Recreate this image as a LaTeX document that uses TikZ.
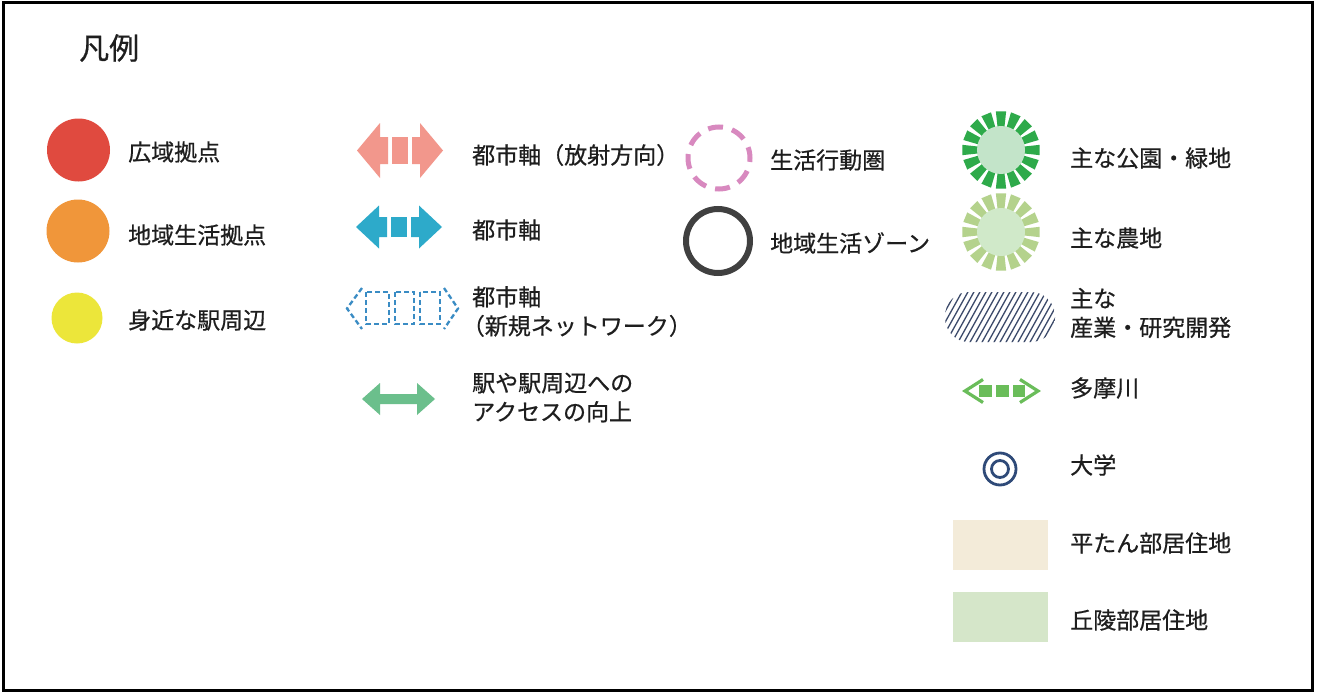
\documentclass[tikz,border=0pt]{standalone}
\usepackage{fontspec}
\setmainfont{Noto Sans CJK JP}[FakeBold=0.6]
\usetikzlibrary{calc}
\definecolor{cred}{HTML}{E04A3F}
\definecolor{corange}{HTML}{F0963A}
\definecolor{cyellow}{HTML}{ECE63A}
\definecolor{cpink}{HTML}{F2978C}
\definecolor{cblue}{HTML}{2DAACA}
\definecolor{cnet}{HTML}{3A8CC4}
\definecolor{cgreenar}{HTML}{6BBF8C}
\definecolor{cmagenta}{HTML}{D889BF}
\definecolor{cdark}{HTML}{404040}
\definecolor{cpark}{HTML}{2EAA4A}
\definecolor{cparkin}{HTML}{C3E4C9}
\definecolor{cfarm}{HTML}{B4D28C}
\definecolor{cfarmin}{HTML}{D0E9C9}
\definecolor{chatch}{HTML}{3D4B6B}
\definecolor{criver}{HTML}{6ABD5A}
\definecolor{cuni}{HTML}{2F4A78}
\definecolor{cbeige}{HTML}{F3EBD9}
\definecolor{chill}{HTML}{D5E6C9}
\definecolor{ctext}{HTML}{1E1E1E}
\newcommand\axisarrow[5]{%
  \fill[#3] ({#1-43},{#2}) -- ({#1-20},{#2-#4}) -- ({#1-20},{#2-#5}) -- ({#1-12},{#2-#5}) -- ({#1-12},{#2+#5}) -- ({#1-20},{#2+#5}) -- ({#1-20},{#2+#4}) -- cycle;
  \fill[#3] ({#1-8},{#2-#5}) rectangle ({#1+8},{#2+#5});
  \fill[#3] ({#1+43},{#2}) -- ({#1+20},{#2-#4}) -- ({#1+20},{#2-#5}) -- ({#1+12},{#2-#5}) -- ({#1+12},{#2+#5}) -- ({#1+20},{#2+#5}) -- ({#1+20},{#2+#4}) -- cycle;
}
\newcommand\rayring[3]{%
  \foreach \a in {0,22.5,...,337.5}{
    \fill[#2] ($(#1)+(\a-8.6:23)$) -- ($(#1)+(\a+8.6:23)$) -- ($(#1)+(\a+7.6:39)$) -- ($(#1)+(\a-7.6:39)$) -- cycle;
  }
  \fill[#3] (#1) circle[radius=24pt];
}
\tikzset{
  lbl/.style={anchor=west, inner sep=0pt, text=ctext, font=\fontsize{23}{29}\selectfont, align=left},
  dot/.style={circle, inner sep=0pt, draw=none}
}
\begin{document}
\begin{tikzpicture}[x=1pt,y=-1pt]
\useasboundingbox (0,0) rectangle (1318,693);
\fill[white] (0,0) rectangle (1318,693);
\draw[line width=3pt, black] (3.5,3) rectangle (1312.5,690);

\node[anchor=west, inner sep=0pt, text=ctext, font=\fontsize{30}{32}\selectfont] (title) at (79,48) {凡例};

% column 1
\node[dot, fill=cred, minimum size=63pt] (red) at (78.5,150) {};
\node[lbl] (tred) at (128,152) {広域拠点};
\node[dot, fill=corange, minimum size=63pt] (orange) at (78,231) {};
\node[lbl] (torange) at (128,235) {地域生活拠点};
\node[dot, fill=cyellow, minimum size=51pt] (yellow) at (77,318) {};
\node[lbl] (tyellow) at (128,320) {身近な駅周辺};

% column 2
\axisarrow{400}{150.5}{cpink}{27.5}{13.5}
\coordinate (pinkax) at (400,150.5);
\node[lbl] (tpink) at (472,155) {都市軸（放射方向）};
\axisarrow{399}{227}{cblue}{21.5}{10}
\coordinate (blueax) at (399,227);
\node[lbl] (tblue) at (472,230) {都市軸};

\begin{scope}[cnet, line width=2.3pt, dash pattern=on 5pt off 3pt]
  \draw (362,288) -- (347,308.5) -- (362,329);
  \draw (444,288) -- (458,308.5) -- (444,329);
  \draw (366,292) rectangle (389,324);
  \draw (395,292) rectangle (414,324);
  \draw (420,292) rectangle (440,324);
\end{scope}
\node[lbl] (tnet) at (472,311.5) {都市軸\\\hspace{-0.45em}（新規ネットワーク）};

\fill[cgreenar] (362,399) -- (380,383) -- (380,394) -- (417,394) -- (417,383) -- (435,399) -- (417,415) -- (417,404) -- (380,404) -- (380,415) -- cycle;
\node[lbl] (tacc) at (472,397.5) {駅や駅周辺への\\アクセスの向上};

% column 3
\draw[cmagenta, line width=5pt, dash pattern=on 15pt off 9.35pt, dash phase=4pt] (719,158) circle[radius=31pt];
\coordinate (life) at (719,158);
\node[lbl] (tlife) at (770,160) {生活行動圏};
\draw[cdark, line width=6pt] (718,241) circle[radius=32pt];
\coordinate (zone) at (718,241);
\node[lbl] (tzone) at (770,243) {地域生活ゾーン};

% column 4
\coordinate (park) at (1001,150);
\rayring{park}{cpark}{cparkin}
\node[lbl] (tpark) at (1070,158) {主な公園・緑地};
\coordinate (farm) at (1001,232);
\rayring{farm}{cfarm}{cfarmin}
\node[lbl] (tfarm) at (1070,238) {主な農地};

\begin{scope}
  \clip[rounded corners=24pt] (945,292) rectangle (1055,342);
  \foreach \i in {0,...,24}{
    \draw[chatch, line width=1.3pt] ({915+6*\i},344) -- ({945+6*\i},290);
  }
\end{scope}
\node[lbl] (tind) at (1070,313) {主な\\産業・研究開発};

\begin{scope}[criver]
  \fill (979,385) rectangle (992,397);
  \fill (996,385) rectangle (1009,397);
  \fill (1013,385) rectangle (1025,397);
  \draw[line width=3.2pt] (983,379.5) -- (965,391) -- (983,402.5);
  \draw[line width=3.2pt] (1020,379.5) -- (1038,391) -- (1020,402.5);
\end{scope}
\coordinate (river) at (1001,391);
\node[lbl] (triver) at (1070,388) {多摩川};

\draw[cuni, line width=2.8pt] (1000,469) circle[radius=16pt];
\draw[cuni, line width=2.8pt] (1000,469) circle[radius=8.5pt];
\coordinate (uni) at (1000,469);
\node[lbl] (tuni) at (1070,465) {大学};

\fill[cbeige] (953,520) rectangle (1048,570);
\node[lbl] (tflat) at (1070,543) {平たん部居住地};
\fill[chill] (953,592) rectangle (1048,642);
\node[lbl] (thill) at (1070,620) {丘陵部居住地};
\end{tikzpicture}
\end{document}
